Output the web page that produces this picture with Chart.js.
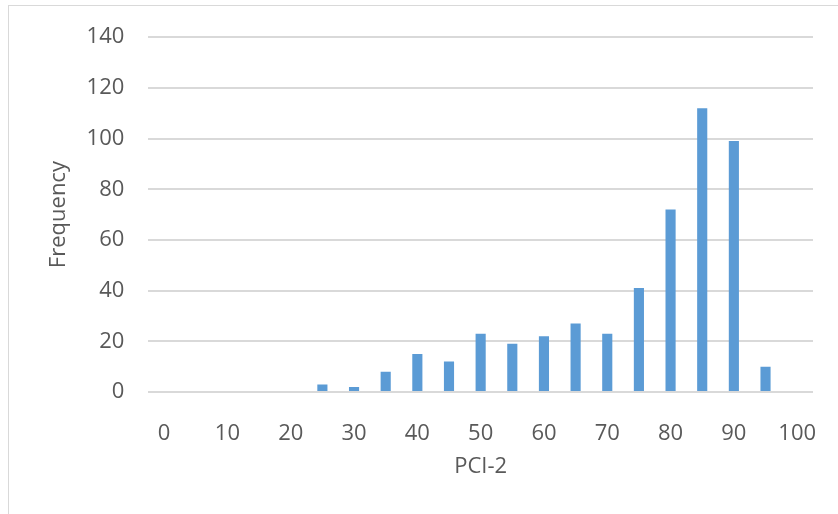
<!DOCTYPE html>
<html>
<head>
<meta charset="utf-8">
<script src="https://cdn.jsdelivr.net/npm/chart.js@4"></script>
<style>
  body { margin: 0; background: #fff; }
  .frame {
    position: absolute; left: 8px; top: 5px; width: 900px; height: 600px;
    border-left: 1px solid #d9d9d9; border-top: 1px solid #d9d9d9;
  }
  .wrap { position: absolute; left: 0; top: 0; width: 838px; height: 514px; }
</style>
</head>
<body>
<div class="frame"></div>
<div class="wrap"><canvas id="histChart" width="838" height="514"></canvas></div>
<script>
  // bins of PCI-2 (step 5) and their counts
  const bins = ['0', '5', '10', '15', '20', '25', '30', '35', '40', '45', '50',
                '55', '60', '65', '70', '75', '80', '85', '90', '95', '100'];
  const counts = [0, 0, 0, 0, 0, 3, 2, 8, 15, 12, 23, 19, 22, 27, 23, 41, 72, 112, 99, 10, 0];
  const yTicks = [0, 20, 40, 60, 80, 100, 120, 140];

  const textColor = '#595959';
  const gridColor = '#d9d9d9';
  const font = { family: 'Open Sans', size: 22 };

  const ctx = document.getElementById('histChart').getContext('2d');

  const histChart = new Chart(ctx, {
    type: 'bar',
    data: {
      labels: bins,
      datasets: [
        {
          label: 'Frequency',
          data: counts,
          backgroundColor: '#5b9bd5',
          borderWidth: 0,
          categoryPercentage: 1,
          barPercentage: 0.32
        }
      ]
    },
    options: {
      responsive: false,
      animation: false,
      layout: {
        padding: { top: 33, right: 25, bottom: 0, left: 0 }
      },
      plugins: {
        legend: { display: false },
        tooltip: { enabled: false }
      },
      scales: {
        x: {
          grid: { display: false },
          border: { display: false },
          ticks: {
            color: textColor,
            font: font,
            autoSkip: false,
            maxRotation: 0,
            padding: 21,
            // only every other bin gets a label
            callback: function (value, index) {
              return index % 2 === 0 ? bins[index] : '';
            }
          },
          title: {
            display: true,
            text: 'PCI-2',
            color: textColor,
            font: font,
            padding: { top: 0, bottom: 34 }
          },
          afterFit: function (scale) {
            scale.height = 122;
          }
        },
        y: {
          min: yTicks[0],
          max: yTicks[yTicks.length - 1],
          grid: {
            color: gridColor,
            lineWidth: 2,
            drawTicks: false
          },
          border: { display: false },
          afterBuildTicks: function (scale) {
            scale.ticks = yTicks.map(v => ({ value: v }));
          },
          ticks: {
            color: textColor,
            font: font,
            padding: 24
          },
          title: {
            display: true,
            text: 'Frequency',
            color: textColor,
            font: font,
            padding: { top: 46, bottom: 0 }
          },
          afterFit: function (scale) {
            scale.width = 148.3;
          }
        }
      }
    }
  });
</script>
</body>
</html>
